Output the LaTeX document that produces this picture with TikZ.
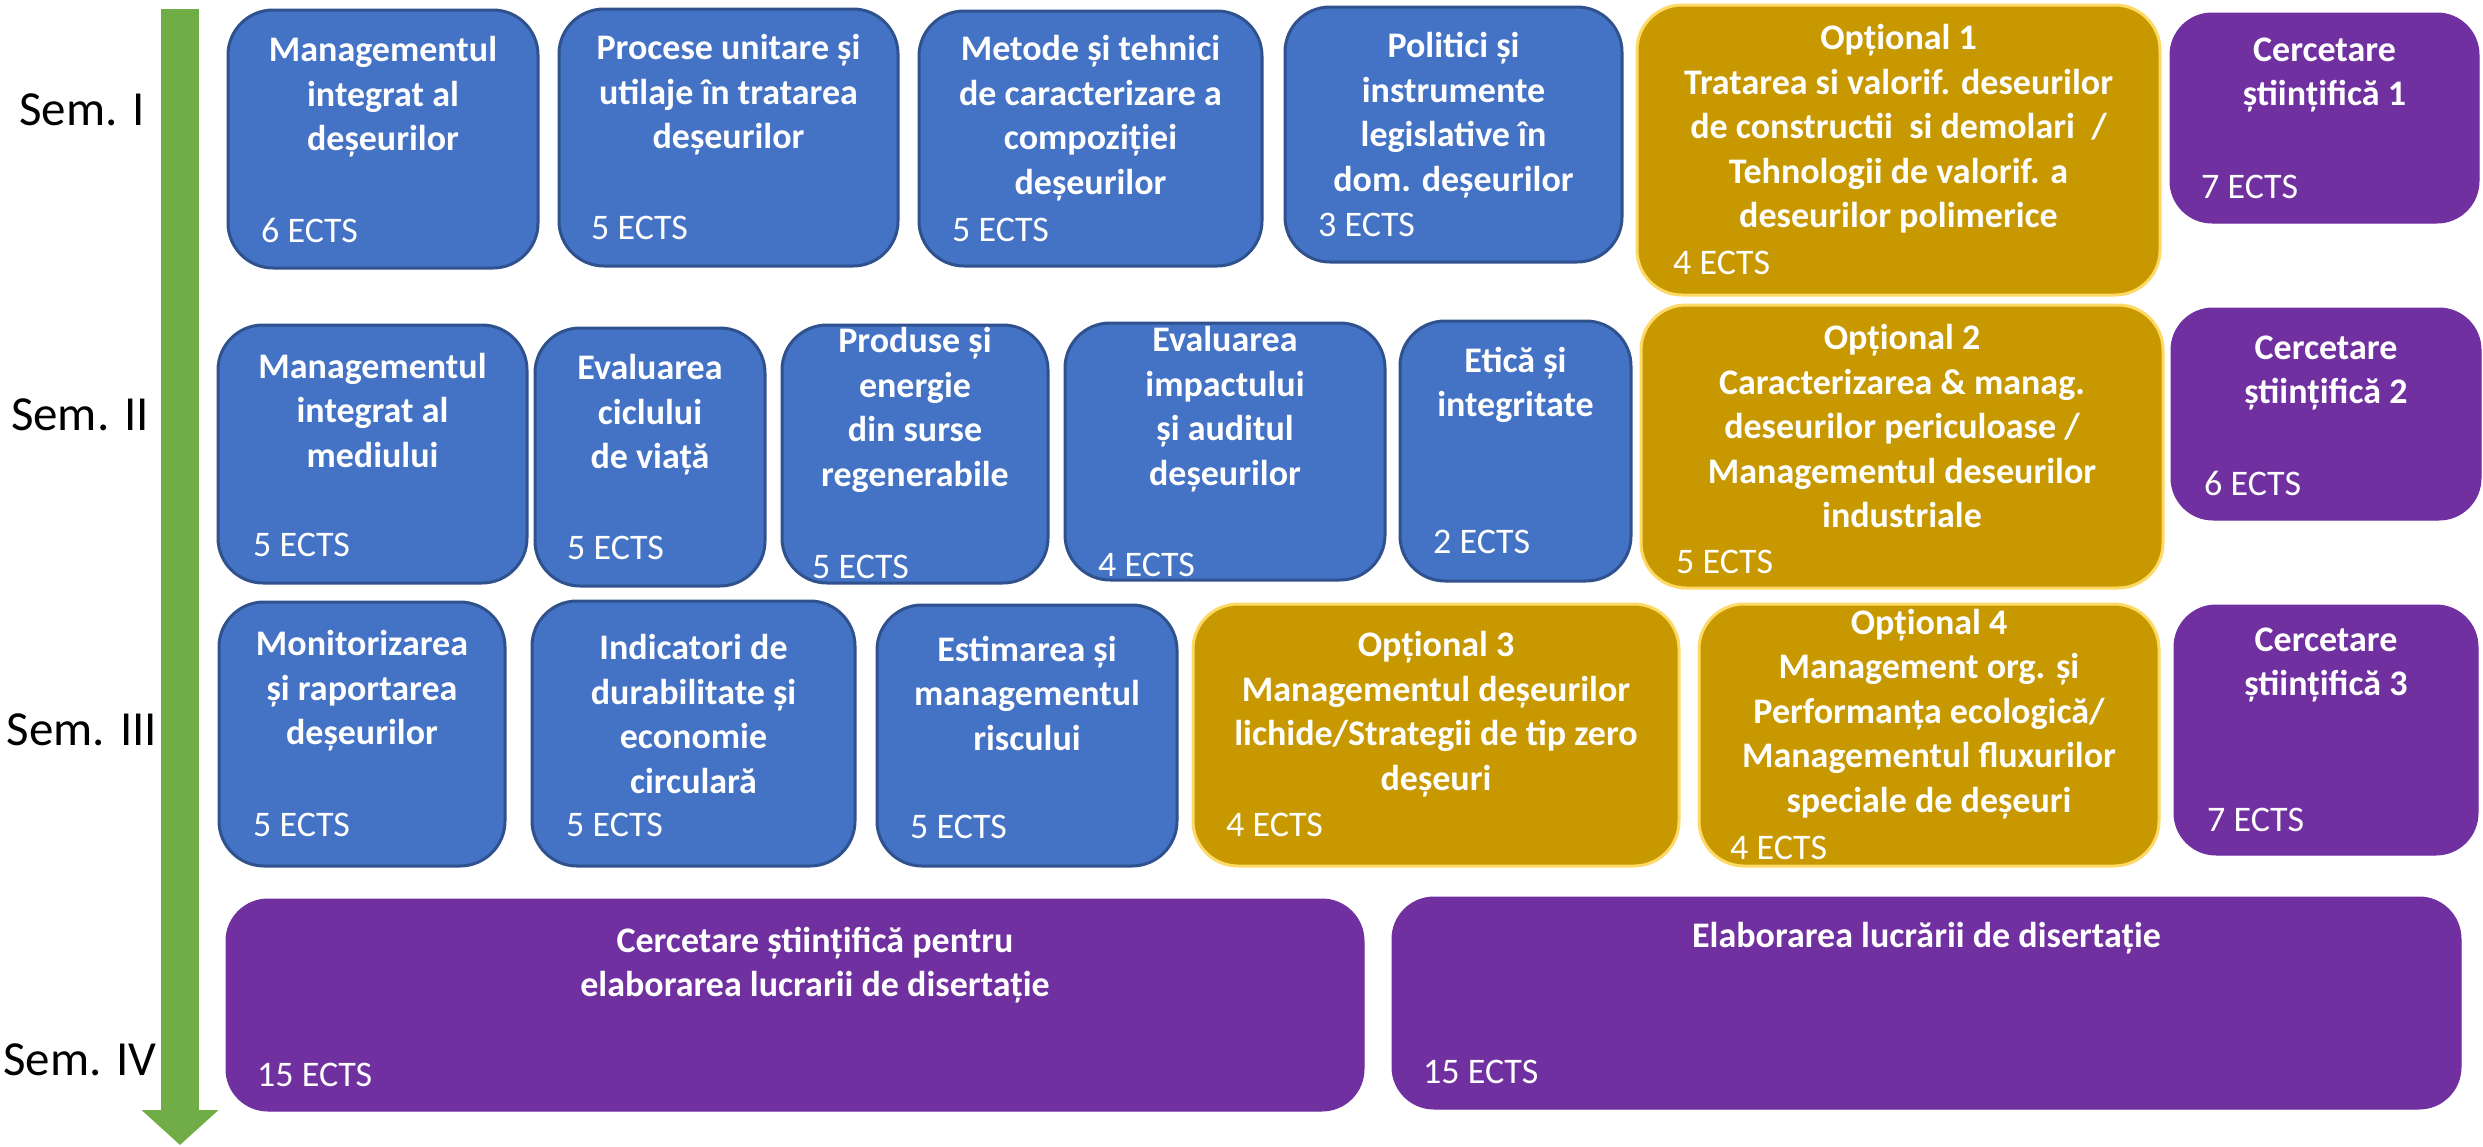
\documentclass[tikz,border=0pt]{standalone}
\usepackage{fontspec}
\setmainfont{Carlito}
\usetikzlibrary{arrows.meta}

\definecolor{cblue}{HTML}{4472C4}
\definecolor{cblueline}{HTML}{2F528F}
\definecolor{cgold}{HTML}{C89800}
\definecolor{cgoldline}{HTML}{FFD966}
\definecolor{cpurple}{HTML}{7030A0}
\definecolor{cgreen}{HTML}{70AD47}

\tikzset{
  bluebox/.style={rounded corners=45pt, fill=cblue, draw=cblueline, line width=3pt, inner sep=0pt},
  goldbox/.style={rounded corners=45pt, fill=cgold, draw=cgoldline, line width=3pt, inner sep=0pt},
  purplebox/.style={rounded corners=42pt, fill=cpurple, draw=cpurple, line width=1pt, inner sep=0pt},
  title/.style={text=white, font=\bfseries\fontsize{36}{44.5}\selectfont, align=center, inner sep=0pt},
  ects/.style={text=white, font=\fontsize{36}{44.5}\selectfont, anchor=west, inner sep=0pt},
  semlabel/.style={font=\fontsize{49}{59}\selectfont, inner sep=0pt}
}

\begin{document}
\begin{tikzpicture}[x=1pt,y=1pt,yscale=-1,xscale=1]
        \useasboundingbox (0,0) rectangle (2483,1146);

        %Timeline arrow
        \coordinate (ttop) at (180,9);
        \coordinate (tend) at (180,1145);
        \draw [cgreen, line width=38pt, -{Triangle[width=75pt,length=35pt]}] (ttop) -- (tend);

        % Semester labels
        \node [semlabel] (s1) at (82,110) {Sem. I};
        \node [semlabel] (s2) at (80,415) {Sem. II};
        \node [semlabel] (s3) at (82,730) {Sem. III};
        \node [semlabel] (s4) at (80,1060) {Sem. IV};

        %Semester I
        \node [bluebox, minimum width=310pt, minimum height=258pt] (m1) at (383,139) {};
        \node [bluebox, minimum width=339pt, minimum height=257pt] (m2) at (728.5,137.5) {};
        \node [bluebox, minimum width=343pt, minimum height=255pt] (m3) at (1090.5,138.5) {};
        \node [bluebox, minimum width=337pt, minimum height=255pt] (m4) at (1453.5,134.5) {};
        \node [goldbox, minimum width=523pt, minimum height=290pt] (o1) at (1898.5,150) {};
        \node [purplebox, minimum width=309pt, minimum height=210pt] (c1) at (2324.5,118) {};

        %Semester II
        \node [bluebox, minimum width=309pt, minimum height=258pt] (m5) at (372.5,454) {};
        \node [bluebox, minimum width=230pt, minimum height=258pt] (m6) at (650,457) {};
        \node [bluebox, minimum width=266pt, minimum height=258pt] (m7) at (915,454) {};
        \node [bluebox, minimum width=320pt, minimum height=257pt] (m8) at (1225,451.5) {};
        \node [bluebox, minimum width=231pt, minimum height=260pt] (m9) at (1515.5,451) {};
        \node [goldbox, minimum width=522pt, minimum height=283pt] (o2) at (1902,446.5) {};
        \node [purplebox, minimum width=310pt, minimum height=212pt] (c2) at (2326,414) {};

        %Semester III
        \node [bluebox, minimum width=286pt, minimum height=264pt] (m10) at (362,734) {};
        \node [bluebox, minimum width=323pt, minimum height=265pt] (m11) at (693.5,733.5) {};
        \node [bluebox, minimum width=300pt, minimum height=261pt] (m12) at (1027,735.5) {};
        \node [goldbox, minimum width=486pt, minimum height=262pt] (o3) at (1436,735) {};
        \node [goldbox, minimum width=460pt, minimum height=262pt] (o4) at (1929,735) {};
        \node [purplebox, minimum width=304pt, minimum height=250pt] (c3) at (2326,730) {};

        %Semester IV
        \node [purplebox, minimum width=1138pt, minimum height=212pt] (d1) at (795,1005) {};
        \node [purplebox, minimum width=1069pt, minimum height=212pt] (d2) at (1926.5,1003) {};

        % Text Nodes
        \node [title] (m1t) at (383,97) {Managementul\\integrat al\\deșeurilor};
        \node [title] (m2t) at (728.5,95) {Procese unitare și\\utilaje în tratarea\\deșeurilor};
        \node [title] (m3t) at (1090.5,118) {Metode și tehnici\\de caracterizare a\\compoziției\\deșeurilor};
        \node [title] (m4t) at (1453.5,115) {Politici și\\instrumente\\legislative în\\dom. deșeurilor};
        \node [title] (o1t) at (1898.5,129) {Opțional 1\\Tratarea si valorif. deseurilor\\de constructii\ \ si demolari\ \ /\\Tehnologii de valorif. a\\deseurilor polimerice};
        \node [title] (c1t) at (2324.5,75) {Cercetare\\științifică 1};

        \node [title] (m5t) at (372.5,410) {Managementul\\integrat al\\mediului};
        \node [title] (m6t) at (650,415) {Evaluarea\\ciclului\\de viață};
        \node [title] (m7t) at (915,410) {Produse și\\energie\\din surse\\regenerabile};
        \node [title] (m8t) at (1225,409) {Evaluarea\\impactului\\și auditul\\deșeurilor};
        \node [title] (m9t) at (1515.5,385) {Etică și\\integritate};
        \node [title] (o2t) at (1902,426) {Opțional 2\\Caracterizarea \& manag.\\deseurilor periculoase /\\Managementul deseurilor\\industriale};
        \node [title] (c2t) at (2326,373) {Cercetare\\științifică 2};

        \node [title] (m10t) at (362,691) {Monitorizarea\\și raportarea\\deșeurilor};
        \node [title] (m11t) at (693.5,714) {Indicatori de\\durabilitate și\\economie\\circulară};
        \node [title] (m12t) at (1027,693) {Estimarea și\\managementul\\riscului};
        \node [title] (o3t) at (1436,714) {Opțional 3\\Managementul deșeurilor\\lichide/Strategii de tip zero\\deșeuri};
        \node [title] (o4t) at (1929,714) {Opțional 4\\Management org. și\\Performanța ecologică/\\Managementul fluxurilor\\speciale de deșeuri};
        \node [title] (c3t) at (2326,665) {Cercetare\\științifică 3};

        \node [title] (d1t) at (815,965) {Cercetare științifică pentru\\elaborarea lucrarii de disertație};
        \node [title] (d2t) at (1926.5,938) {Elaborarea lucrării de disertație};

        % ECTS Nodes
        \node [ects] (m1e) at (261,230) {6 ECTS};
        \node [ects] (m2e) at (591,228) {5 ECTS};
        \node [ects] (m3e) at (952,230) {5 ECTS};
        \node [ects] (m4e) at (1318,225) {3 ECTS};
        \node [ects] (o1e) at (1673,263) {4 ECTS};
        \node [ects] (c1e) at (2201,187) {7 ECTS};

        \node [ects] (m5e) at (253,545) {5 ECTS};
        \node [ects] (m6e) at (567,548) {5 ECTS};
        \node [ects] (m7e) at (812,567) {5 ECTS};
        \node [ects] (m8e) at (1098,565) {4 ECTS};
        \node [ects] (m9e) at (1433,542) {2 ECTS};
        \node [ects] (o2e) at (1676,562) {5 ECTS};
        \node [ects] (c2e) at (2204,483) {6 ECTS};

        \node [ects] (m10e) at (253,825) {5 ECTS};
        \node [ects] (m11e) at (566,825) {5 ECTS};
        \node [ects] (m12e) at (910,827) {5 ECTS};
        \node [ects] (o3e) at (1226,825) {4 ECTS};
        \node [ects] (o4e) at (1730,848) {4 ECTS};
        \node [ects] (c3e) at (2207,820) {7 ECTS};

        \node [ects] (d1e) at (257,1075) {15 ECTS};
        \node [ects] (d2e) at (1423,1072) {15 ECTS};
\end{tikzpicture}
\end{document}
